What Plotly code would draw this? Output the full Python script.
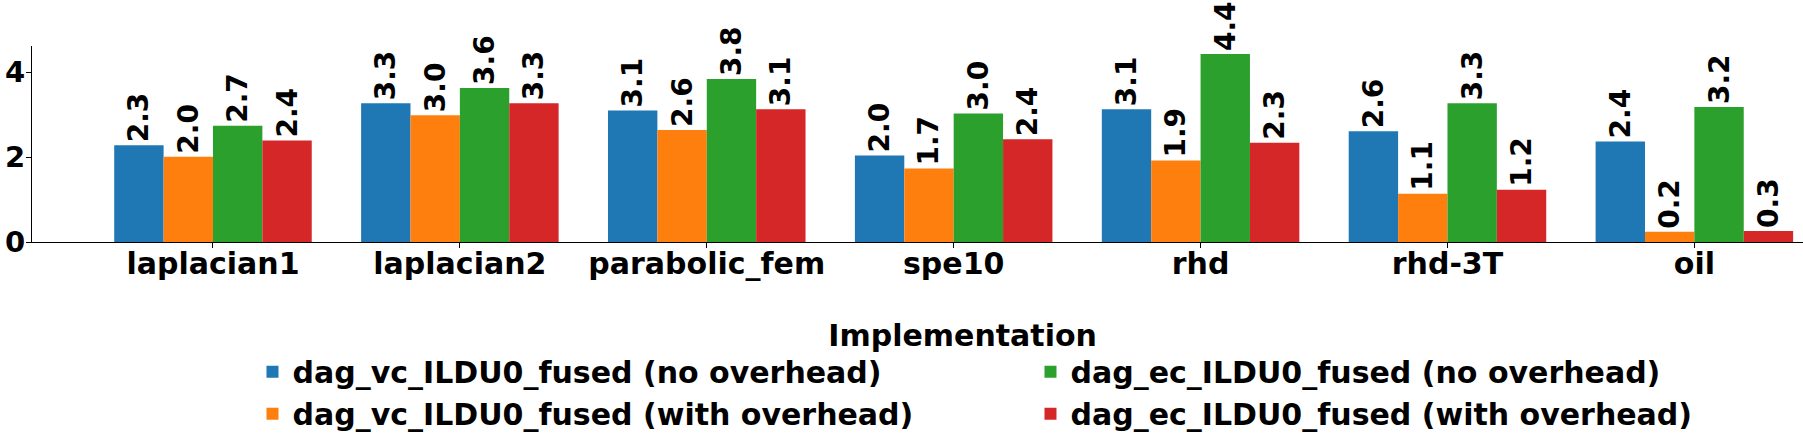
import plotly.graph_objects as go

categories = ["laplacian1", "laplacian2", "parabolic_fem", "spe10", "rhd", "rhd-3T", "oil"]
series_names = [
    "dag_vc_ILDU0_fused (no overhead)",
    "dag_vc_ILDU0_fused (with overhead)",
    "dag_ec_ILDU0_fused (no overhead)",
    "dag_ec_ILDU0_fused (with overhead)",
]
vc_no_overhead = [2.28, 3.27, 3.10, 2.04, 3.13, 2.61, 2.37]
vc_with_overhead = [2.01, 2.99, 2.64, 1.73, 1.92, 1.14, 0.24]
ec_no_overhead = [2.74, 3.63, 3.84, 3.03, 4.43, 3.27, 3.18]
ec_with_overhead = [2.39, 3.27, 3.13, 2.42, 2.34, 1.23, 0.26]
y_ticks = [0, 2, 4]

series_values = [vc_no_overhead, vc_with_overhead, ec_no_overhead, ec_with_overhead]
colors = ["#1f77b4", "#ff7f0e", "#2ca02c", "#d62728"]
legend_ranks = [1, 3, 2, 4]

FONT = "DejaVu Sans"
FS = 30

fig = go.Figure()
for name, vals, col, rank in zip(series_names, series_values, colors, legend_ranks):
    fig.add_trace(go.Bar(
        x=categories, y=vals, name=name,
        marker=dict(color=col, line=dict(width=0)),
        text=vals, texttemplate="%{y:.1f}",
        textposition="outside", textangle=-90,
        textfont=dict(family=FONT, size=28, color="black", weight="bold"),
        constraintext="none", cliponaxis=False,
        legendrank=rank,
    ))

fig.update_layout(
    width=1803, height=442,
    paper_bgcolor="white", plot_bgcolor="white",
    font=dict(family=FONT, size=FS, color="black", weight="bold"),
    barmode="group", bargap=0.2, bargroupgap=0,
    margin=dict(l=32, r=0, t=46, b=200, pad=0, autoexpand=False),
    xaxis=dict(
        range=[-0.733, 6.44], showline=True, linecolor="black", linewidth=1.3,
        ticks="outside", ticklen=5, tickwidth=1.3, tickcolor="black",
        ticklabelstandoff=-10,
        showgrid=False, zeroline=False,
        tickfont=dict(family=FONT, size=FS, color="black", weight="bold"),
    ),
    yaxis=dict(
        range=[0, 4.62], tickvals=y_ticks, showline=True, linecolor="black", linewidth=1.3,
        ticks="outside", ticklen=5, tickwidth=1.3, tickcolor="black",
        ticklabelstandoff=-5,
        showgrid=False, zeroline=False,
        tickfont=dict(family=FONT, size=29, color="black", weight="bold"),
    ),
    legend=dict(
        orientation="h", x=0.1245, xanchor="left", y=-0.33, yanchor="top",
        entrywidth=733, entrywidthmode="pixels",
        font=dict(family=FONT, size=FS, color="black", weight="bold"),
        title=dict(text="Implementation" + "\u00a0" * 13, side="top center",
                   font=dict(family=FONT, size=FS, color="black", weight="bold")),
        bgcolor="rgba(0,0,0,0)",
    ),
    showlegend=True,
)

fig.write_html(
    "out.html",
    config={"displayModeBar": False},
    post_script="document.body.style.margin='0';document.body.style.overflow='hidden';",
)
